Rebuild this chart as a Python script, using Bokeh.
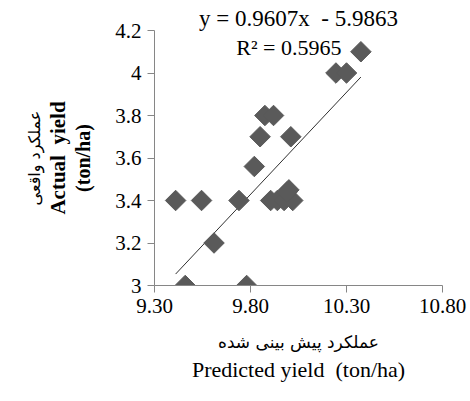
import numpy as np
from bokeh.plotting import figure
from bokeh.models import Range1d, FixedTicker, Label, Title, NumeralTickFormatter, ColumnDataSource
from bokeh.embed import file_html
from bokeh.resources import INLINE

# Data
predicted = [9.41, 9.545, 9.61, 9.46, 9.78, 9.74, 9.82, 9.85, 9.875, 9.92,
             10.01, 9.905, 9.94, 9.975, 10.02, 9.99, 10.0, 10.245, 10.3, 10.375]
actual = [3.4, 3.4, 3.2, 3.0, 3.0, 3.4, 3.56, 3.7, 3.8, 3.8,
          3.7, 3.4, 3.4, 3.4, 3.4, 3.44, 3.45, 4.0, 4.0, 4.1]
slope = 0.9607
intercept = -5.9863
r_squared = 0.5965
x_ticks = [9.3, 9.8, 10.3, 10.8]
y_ticks = [3.0, 3.2, 3.4, 3.6, 3.8, 4.0, 4.2]

SERIF = "Liberation Serif"
ARABIC = "DejaVu Sans"
NB = "\u00a0"

p = figure(width=470, height=401, x_range=Range1d(9.3, 10.8), y_range=Range1d(3.0, 4.2),
           output_backend="svg", toolbar_location=None,
           min_border_left=154, min_border_right=28, min_border_top=30, min_border_bottom=116)
p.outline_line_color = None
p.xgrid.visible = False
p.ygrid.visible = False

for ax in (p.xaxis, p.yaxis):
    ax.axis_line_color = "#868686"
    ax.major_tick_line_color = "#868686"
    ax.minor_tick_line_color = None
    ax.major_tick_out = 7
    ax.major_tick_in = 0
    ax.major_label_text_font = SERIF
    ax.major_label_text_font_size = "21px"
    ax.major_label_text_color = "#000000"
    ax.major_label_standoff = 6

p.xaxis.ticker = FixedTicker(ticks=x_ticks)
p.xaxis.formatter = NumeralTickFormatter(format="0.00")
p.yaxis.ticker = FixedTicker(ticks=y_ticks)
p.yaxis.formatter = NumeralTickFormatter(format="0.[0]")

p.yaxis.axis_label = "(ton/ha)"
p.yaxis.axis_label_text_font = SERIF
p.yaxis.axis_label_text_font_size = "20px"
p.yaxis.axis_label_text_font_style = "bold"
p.yaxis.axis_label_text_color = "#000000"
p.yaxis.axis_label_standoff = 18

# Trendline over the data range
tx = np.array([min(predicted), max(predicted)])
ty = slope * tx + intercept
p.line(tx, ty, line_color="#303030", line_width=1)

src = ColumnDataSource(dict(x=predicted, y=actual))
p.scatter("x", "y", source=src, marker="square", angle=np.pi / 4, size=14.5,
          fill_color="#5a5a5a", line_color="#5a5a5a", line_width=1)

# Equation text (first line above the frame, second inside)
p.add_layout(Title(text=f"y = {slope}x{NB} - {abs(intercept)}", align="center", offset=-20,
                   standoff=0, text_font=SERIF, text_font_size="23px",
                   text_font_style="normal", text_color="#000000"), "above")
p.add_layout(Label(x=10.0, y=4.2, y_offset=-17, text=f"R² = {r_squared}",
                   text_font=SERIF, text_font_size="22px", text_align="center",
                   text_baseline="middle", text_color="#000000"))

# X axis titles
p.add_layout(Title(text="عملکرد پیش بینی شده", align="center", offset=25, standoff=28,
                   text_font=ARABIC, text_font_size="17px", text_font_style="normal",
                   text_color="#000000"), "below")
p.add_layout(Title(text=f"Predicted yield{NB} (ton/ha)", align="center", offset=-4, standoff=-21,
                   text_font=SERIF, text_font_size="22px", text_font_style="normal",
                   text_color="#000000"), "below")

# Y axis titles (vertical)
p.add_layout(Title(text=f"Actual{NB} yield", align="center", standoff=0,
                   text_font=SERIF, text_font_size="21px", text_font_style="bold",
                   text_color="#000000"), "left")
p.add_layout(Title(text="عملکرد واقعی", align="center", offset=3, standoff=0,
                   text_font=ARABIC, text_font_size="16px", text_font_style="normal",
                   text_color="#000000"), "left")

open("out.html", "w").write(file_html(p, INLINE))
